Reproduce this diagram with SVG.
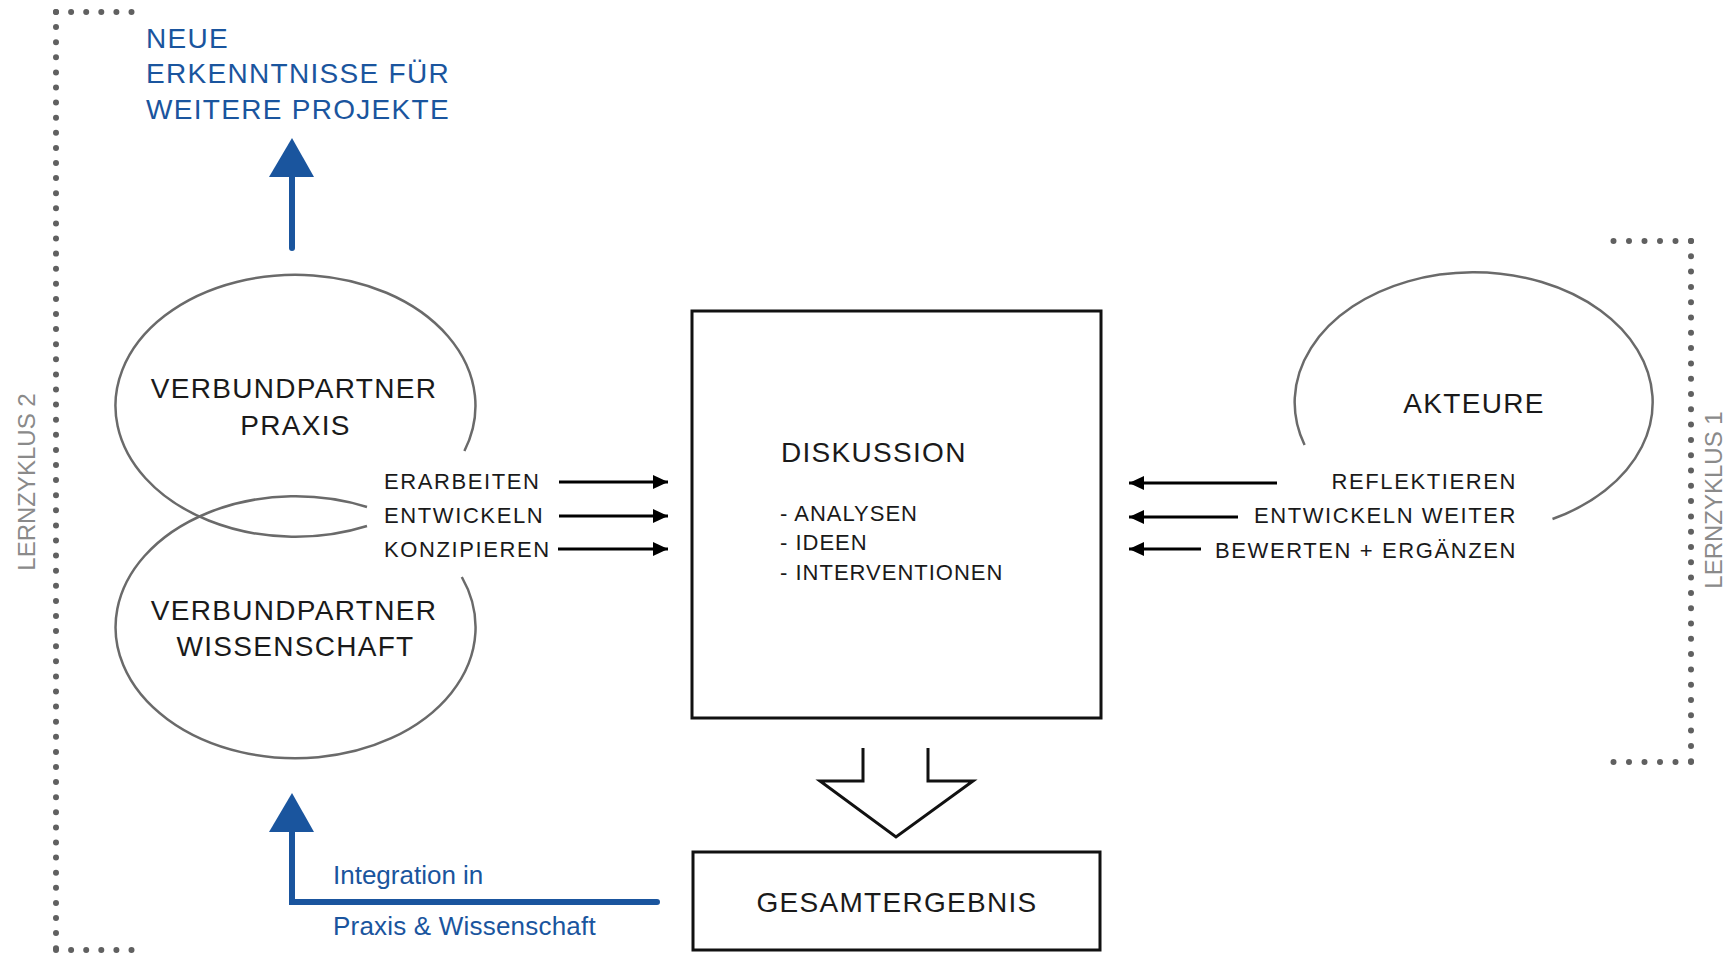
<svg xmlns="http://www.w3.org/2000/svg" width="1729" height="953" viewBox="0 0 1729 953">
<style>
text{font-family:"Liberation Sans",Arial,Helvetica,sans-serif}
.big{font-size:28px;letter-spacing:1.3px;fill:#1a1a1a}
.lbl{font-size:22px;letter-spacing:1.6px;fill:#1a1a1a}
.sub{font-size:22px;letter-spacing:1px;fill:#1a1a1a}
.blue{fill:#1a559e}
.cyc{font-size:24px;fill:#8a8a8a}
.ell{fill:none;stroke:#6a6a6a;stroke-width:2.5}
.dots{fill:none;stroke:#606060;stroke-width:6;stroke-linecap:round}
.box{fill:#fff;stroke:#111;stroke-width:3}
.arr{fill:none;stroke:#000;stroke-width:3}
</style>
<defs>
<marker id="ah" viewBox="0 0 15 14" refX="15" refY="7" markerWidth="15" markerHeight="14" markerUnits="userSpaceOnUse" orient="auto">
<path d="M0,0 L15,7 L0,14 Z" fill="#000"/>
</marker>
</defs>

<g id="brackets">
<path class="dots" stroke-dasharray="0 15.1" d="M56,12 V950"/>
<path class="dots" stroke-dasharray="0 15.1" d="M56,12 H132"/>
<path class="dots" stroke-dasharray="0 15.1" d="M56,950 H132"/>
<path class="dots" stroke-dasharray="0 15.3" d="M1691,241 V762"/>
<path class="dots" stroke-dasharray="0 15.5" d="M1691,241 H1613"/>
<path class="dots" stroke-dasharray="0 15.5" d="M1691,762 H1613"/>
<text class="cyc" transform="translate(35,482) rotate(-90)" text-anchor="middle">LERNZYKLUS 2</text>
<text class="cyc" transform="translate(1722,500) rotate(-90)" text-anchor="middle">LERNZYKLUS 1</text>
</g>

<g id="neue">
<text class="big blue" x="146" y="48">NEUE</text>
<text class="big blue" x="146" y="83">ERKENNTNISSE FÜR</text>
<text class="big blue" x="146" y="119">WEITERE PROJEKTE</text>
</g>

<g id="praxis">
<path class="ell" d="M464.4,451 A180,131 0 1 0 367,526"/>
<text class="big" x="294" y="398" text-anchor="middle">VERBUNDPARTNER</text>
<text class="big" x="295.5" y="435" text-anchor="middle">PRAXIS</text>
</g>

<g id="wissenschaft">
<path class="ell" d="M461.8,577 A180,131 0 1 1 367,507"/>
<text class="big" x="294" y="620" text-anchor="middle">VERBUNDPARTNER</text>
<text class="big" x="295.5" y="656" text-anchor="middle">WISSENSCHAFT</text>
</g>

<g id="akteure">
<path class="ell" d="M1304.6,445 A179,130 0 1 1 1552.5,519"/>
<text class="big" x="1474" y="413" text-anchor="middle">AKTEURE</text>
</g>

<g id="diskussion">
<rect class="box" x="692" y="311" width="409" height="407"/>
<text class="big" x="781" y="462">DISKUSSION</text>
<text class="sub" x="780" y="521">- ANALYSEN</text>
<text class="sub" x="780" y="550">- IDEEN</text>
<text class="sub" x="780" y="580">- INTERVENTIONEN</text>
</g>

<g id="gesamtergebnis">
<rect class="box" x="693" y="852" width="407" height="98"/>
<text class="big" x="897" y="912" text-anchor="middle">GESAMTERGEBNIS</text>
</g>

<g id="labels">
<text class="lbl" x="384" y="489">ERARBEITEN</text>
<text class="lbl" x="384" y="523">ENTWICKELN</text>
<text class="lbl" x="384" y="557">KONZIPIEREN</text>
<text class="lbl" x="1517" y="489" text-anchor="end">REFLEKTIEREN</text>
<text class="lbl" x="1517" y="523" text-anchor="end">ENTWICKELN WEITER</text>
<text class="lbl" x="1517" y="558" text-anchor="end">BEWERTEN + ERGÄNZEN</text>
<text class="blue" x="333" y="884" font-size="26">Integration in</text>
<text class="blue" x="333" y="935" font-size="26" letter-spacing="0.2">Praxis &amp; Wissenschaft</text>
</g>

<g id="connectors">
<path class="arr" marker-end="url(#ah)" d="M559,482 H668"/>
<path class="arr" marker-end="url(#ah)" d="M559,516 H668"/>
<path class="arr" marker-end="url(#ah)" d="M558,549 H668"/>
<path class="arr" marker-end="url(#ah)" d="M1277,483 H1129"/>
<path class="arr" marker-end="url(#ah)" d="M1238,517 H1129"/>
<path class="arr" marker-end="url(#ah)" d="M1201,549 H1129"/>
<path d="M863,748 V781 H820 L896,837 L973,781 H928 V748" fill="#fff" stroke="#111" stroke-width="3" stroke-linejoin="miter"/>
<path d="M292,248 V176" stroke="#1a559e" stroke-width="6" stroke-linecap="round" fill="none"/>
<path d="M269,177 L292,138 L314,177 Z" fill="#1a559e"/>
<path d="M657,902 H292 V830" stroke="#1a559e" stroke-width="6" stroke-linecap="round" stroke-linejoin="miter" fill="none"/>
<path d="M269,832 L292,793 L314,832 Z" fill="#1a559e"/>
</g>
</svg>
